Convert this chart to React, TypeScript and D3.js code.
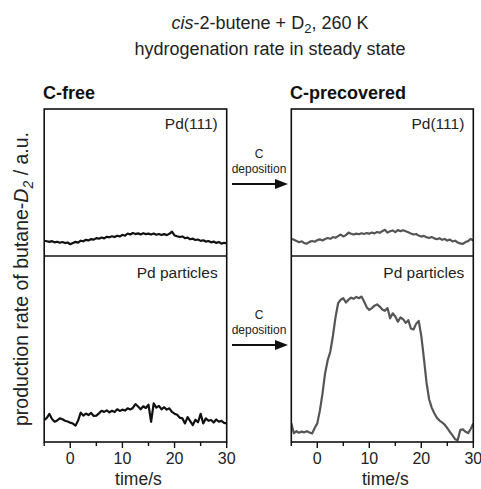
import React from "react";
import * as d3 from "d3";

const times: number[] = d3.range(-5, 30.001, 0.5);
const xTicksMajor = [0, 10, 20, 30];
const xTicksMinor = [-5, 5, 15, 25];

const freePd111 = [10.4, 10.0, 9.6, 10.1, 9.3, 9.7, 9.0, 9.5, 8.8, 9.2, 8.0, 8.9, 9.6, 9.1, 10.4, 10.0, 11.0, 10.6, 11.5, 11.1, 12.2, 11.8, 12.6, 12.0, 13.1, 12.7, 13.4, 12.9, 13.8, 13.3, 14.4, 13.8, 15.3, 14.6, 15.6, 14.9, 15.4, 14.7, 15.5, 14.9, 15.2, 14.6, 15.3, 14.5, 15.0, 14.3, 14.9, 14.2, 15.1, 16.6, 14.0, 13.4, 12.9, 13.3, 12.1, 12.5, 11.4, 11.8, 10.9, 11.2, 10.3, 10.7, 9.8, 10.2, 9.3, 9.8, 8.9, 9.5, 8.4, 9.0, 8.6];
const precovPd111 = [11.8, 11.0, 10.2, 9.4, 10.0, 8.8, 8.4, 9.6, 10.2, 9.7, 10.8, 11.3, 10.6, 11.5, 12.2, 11.7, 12.9, 12.4, 13.5, 14.6, 13.3, 14.2, 15.9, 15.1, 14.6, 15.2, 14.8, 15.5, 15.0, 15.6, 15.2, 16.0, 15.4, 16.3, 15.8, 16.9, 17.8, 15.9, 16.8, 17.4, 16.2, 17.6, 16.9, 17.5, 16.8, 16.1, 15.3, 14.6, 15.0, 13.9, 13.2, 13.7, 12.8, 12.3, 12.9, 12.0, 11.4, 12.1, 11.0, 11.6, 10.5, 11.2, 9.9, 10.4, 9.2, 8.6, 8.2, 9.5, 10.1, 11.6, 10.4];
const freeParticles = [11.8, 13.0, 15.1, 12.4, 10.9, 11.6, 12.7, 12.2, 11.4, 11.0, 10.4, 9.9, 8.8, 11.5, 15.8, 14.2, 15.3, 14.5, 15.6, 14.0, 14.2, 15.4, 16.8, 16.2, 17.0, 15.9, 16.8, 16.1, 17.6, 16.7, 17.4, 16.9, 18.1, 17.5, 18.3, 20.4, 19.1, 17.6, 19.2, 18.3, 20.1, 10.9, 20.8, 18.5, 19.4, 17.6, 18.7, 17.4, 18.1, 16.2, 15.2, 14.6, 13.1, 12.7, 10.0, 13.4, 11.2, 9.1, 12.0, 10.6, 15.1, 10.0, 12.7, 11.4, 11.8, 10.5, 12.1, 10.9, 11.4, 10.3, 10.0];
const precovParticles = [10.0, 4.7, 5.8, 5.0, 5.6, 5.2, 5.8, 5.1, 4.6, 7.5, 10.0, 17.0, 26.0, 37.0, 44.0, 48.5, 57.0, 67.0, 74.6, 76.5, 77.3, 75.0, 76.5, 77.6, 77.0, 78.0, 77.3, 78.2, 75.5, 72.5, 71.0, 72.0, 73.3, 74.0, 72.8, 71.2, 70.5, 72.0, 66.5, 69.2, 67.5, 64.7, 67.0, 66.0, 64.0, 65.5, 61.0, 60.5, 63.5, 65.1, 57.0, 45.0, 32.0, 23.0, 18.5, 15.5, 13.0, 11.5, 10.5, 9.3, 7.5, 5.5, 3.5, 1.5, 1.0, 6.5, 6.8, 5.5, 4.8, 7.0, 10.0];

const FONT = "'Liberation Sans', Arial, Helvetica, sans-serif";

const TOP = 109;
const MID = 256;
const BOT = 442;

type PanelProps = { x0: number; x1: number; upper: number[]; lower: number[]; color: string; id: string };

function Panel({ x0, x1, upper, lower, color, id }: PanelProps) {
  const x = d3.scaleLinear().domain([-5, 30]).range([x0, x1]);
  const yU = d3.scaleLinear().domain([0, 100]).range([MID, TOP]);
  const yL = d3.scaleLinear().domain([0, 100]).range([BOT, MID]);
  const lineU = d3.line<number>().x((_, i) => x(times[i])).y((d) => yU(d));
  const lineL = d3.line<number>().x((_, i) => x(times[i])).y((d) => yL(d));
  const cx = (x0 + x1) / 2;
  return (
    <g>
      <defs>
        <clipPath id={id + "u"}>
          <rect x={x0} y={TOP} width={x1 - x0} height={MID - TOP} />
        </clipPath>
        <clipPath id={id + "l"}>
          <rect x={x0} y={MID} width={x1 - x0} height={BOT - MID} />
        </clipPath>
      </defs>
      <path d={lineU(upper) || ""} fill="none" stroke={color} strokeWidth={2.2} strokeLinejoin="round" clipPath={`url(#${id}u)`} />
      <path d={lineL(lower) || ""} fill="none" stroke={color} strokeWidth={2.2} strokeLinejoin="round" clipPath={`url(#${id}l)`} />
      <rect x={x0} y={TOP} width={x1 - x0} height={BOT - TOP} fill="none" stroke="#111" strokeWidth={1.6} />
      <line x1={x0} x2={x1} y1={MID} y2={MID} stroke="#111" strokeWidth={1.6} />
      {xTicksMajor.map((t) => (
        <g key={"M" + t}>
          <line x1={x(t)} x2={x(t)} y1={BOT} y2={BOT + 6} stroke="#111" strokeWidth={1.4} />
          <text x={x(t)} y={464} textAnchor="middle" fontSize={16} fill="#222">{t}</text>
        </g>
      ))}
      {xTicksMinor.map((t) => (
        <line key={"m" + t} x1={x(t)} x2={x(t)} y1={BOT} y2={BOT + 4} stroke="#111" strokeWidth={1.4} />
      ))}
      <text x={cx + 3} y={484.5} textAnchor="middle" fontSize={17.5} fill="#222">time/s</text>
      <text x={x1 - 9} y={129} textAnchor="end" fontSize={15.5} fill="#222">Pd(111)</text>
      <text x={x1 - 9} y={278} textAnchor="end" fontSize={15.5} fill="#222">Pd particles</text>
    </g>
  );
}

function Arrow({ y }: { y: number }) {
  return (
    <g>
      <text x={259} y={y - 26} textAnchor="middle" fontSize={12} fill="#222">C</text>
      <text x={259} y={y - 11} textAnchor="middle" fontSize={12} fill="#222">deposition</text>
      <line x1={232} x2={278} y1={y} y2={y} stroke="#111" strokeWidth={1.8} />
      <path d={`M${288},${y} L${275},${y - 5} L${275},${y + 5} Z`} fill="#111" />
    </g>
  );
}

export default function App() {
  return (
    <svg
      width={481}
      height={489}
      style={{ position: "absolute", left: 0, top: 0, background: "#fff" }}
      fontFamily={FONT}
    >
      <rect x={0} y={0} width={481} height={489} fill="#fff" />
      <text x={270} y={29} textAnchor="middle" fontSize={18} fill="#222">
        <tspan fontStyle="italic">cis</tspan>
        <tspan>-2-butene + D</tspan>
        <tspan fontSize={13} dy={4}>2</tspan>
        <tspan dy={-4}>, 260 K</tspan>
      </text>
      <text x={270} y={55} textAnchor="middle" fontSize={18} fill="#222">hydrogenation rate in steady state</text>
      <text x={43} y={99} fontSize={18} fontWeight="bold" fill="#111">C-free</text>
      <text x={290} y={99} fontSize={18} fontWeight="bold" fill="#111">C-precovered</text>
      <text transform="translate(28,279) rotate(-90)" textAnchor="middle" fontSize={19.5} fill="#222">
        <tspan>production rate of butane-</tspan>
        <tspan fontStyle="italic">D</tspan>
        <tspan fontSize={14} dy={5} fontStyle="italic">2</tspan>
        <tspan dy={-5}> / a.u.</tspan>
      </text>
      <Panel x0={44.2} x1={226.7} upper={freePd111} lower={freeParticles} color="#111" id="pa" />
      <Panel x0={291.3} x1={473.3} upper={precovPd111} lower={precovParticles} color="#555" id="pb" />
      <Arrow y={184} />
      <Arrow y={345} />
    </svg>
  );
}
